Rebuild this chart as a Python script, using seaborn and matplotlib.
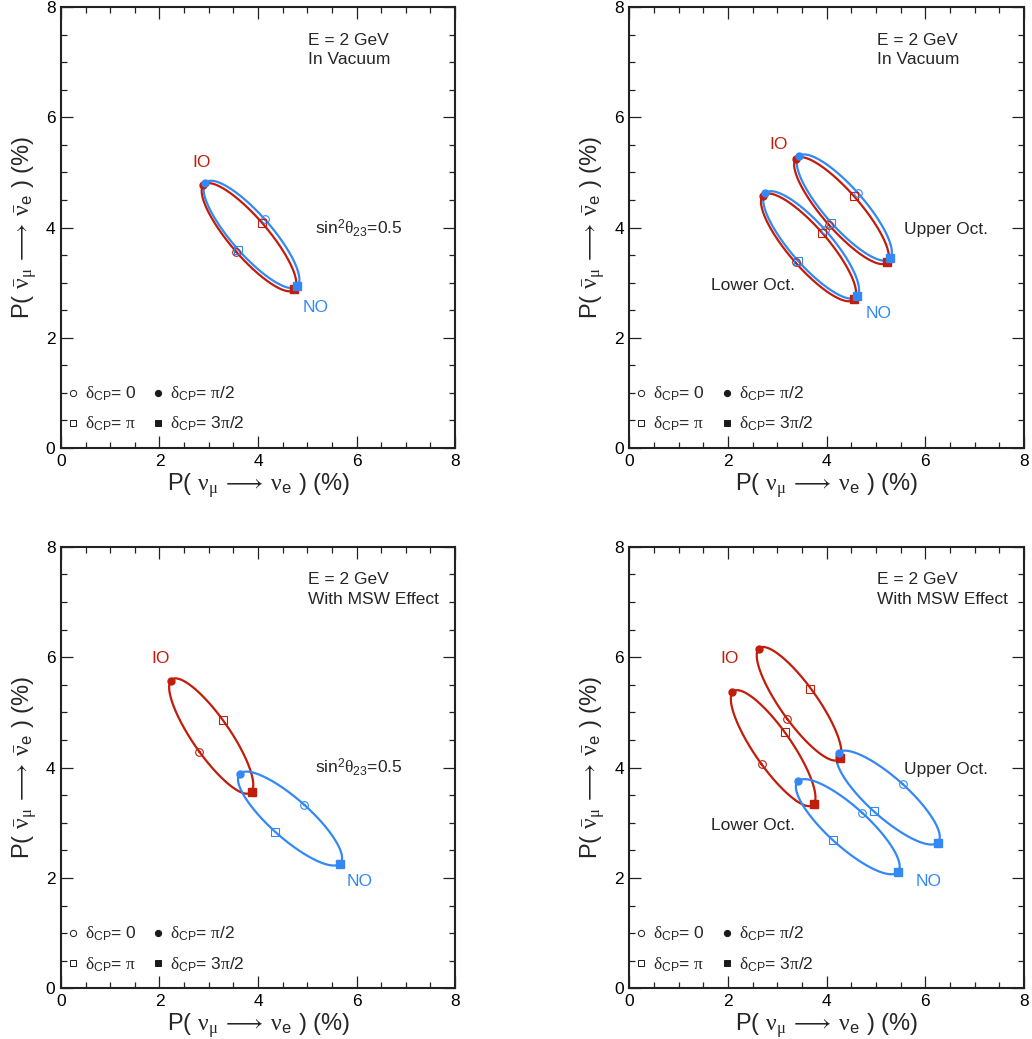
import numpy as np
import pandas as pd
import matplotlib
matplotlib.use("Agg")
import matplotlib.pyplot as plt
import seaborn as sns
from matplotlib.ticker import MultipleLocator

sns.set_theme(style="ticks")
plt.rcParams["font.family"] = ["Liberation Sans", "DejaVu Sans"]
plt.rcParams["mathtext.fontset"] = "custom"
plt.rcParams["mathtext.rm"] = "Liberation Serif"
plt.rcParams["mathtext.sf"] = "Liberation Sans"
plt.rcParams["mathtext.it"] = "Liberation Serif:italic"
plt.rcParams["mathtext.default"] = "rm"

RED = "#c01d0b"
BLUE = "#3388f5"

# marker order in every list: delta_CP = 0, pi/2, pi, 3pi/2  (values in %)
# --- top-left: vacuum, sin^2 theta23 = 0.5
tl_NO_x = [4.14, 2.93, 3.60, 4.80]
tl_NO_y = [4.15, 4.81, 3.60, 2.94]
tl_IO_x = [3.56, 2.89, 4.08, 4.74]
tl_IO_y = [3.56, 4.77, 4.09, 2.88]
# --- top-right: vacuum, upper/lower octant
tr_NO_up_x = [4.63, 3.43, 4.09, 5.28]
tr_NO_up_y = [4.63, 5.29, 4.09, 3.44]
tr_IO_up_x = [4.05, 3.37, 4.56, 5.22]
tr_IO_up_y = [4.05, 5.24, 4.57, 3.37]
tr_NO_lo_x = [3.97, 2.75, 3.41, 4.61]
tr_NO_lo_y = [3.95, 4.63, 3.40, 2.76]
tr_IO_lo_x = [3.37, 2.70, 3.91, 4.55]
tr_IO_lo_y = [3.37, 4.58, 3.91, 2.70]
# --- bottom-left: matter, sin^2 theta23 = 0.5
bl_NO_x = [4.94, 3.64, 4.35, 5.67]
bl_NO_y = [3.32, 3.89, 2.83, 2.26]
bl_IO_x = [2.81, 2.23, 3.29, 3.87]
bl_IO_y = [4.29, 5.57, 4.86, 3.56]
# --- bottom-right: matter, upper/lower octant
br_NO_up_x = [5.54, 4.24, 4.95, 6.25]
br_NO_up_y = [3.70, 4.27, 3.21, 2.64]
br_NO_lo_x = [4.72, 3.42, 4.13, 5.44]
br_NO_lo_y = [3.18, 3.75, 2.68, 2.10]
br_IO_up_x = [3.20, 2.62, 3.67, 4.27]
br_IO_up_y = [4.87, 6.15, 5.43, 4.17]
br_IO_lo_x = [2.68, 2.09, 3.15, 3.74]
br_IO_lo_y = [4.06, 5.36, 4.64, 3.34]

panels = [
    dict(pos=[0.0591, 0.5688, 0.3818, 0.4244], env="In Vacuum",
         curves=[("IO", tl_IO_x, tl_IO_y), ("NO", tl_NO_x, tl_NO_y)],
         io=(2.66, 5.10), no=(4.90, 2.47), sin=(5.16, 3.89), octs=None),
    dict(pos=[0.6098, 0.5688, 0.3825, 0.4244], env="In Vacuum",
         curves=[("IO", tr_IO_lo_x, tr_IO_lo_y), ("NO", tr_NO_lo_x, tr_NO_lo_y),
                 ("IO", tr_IO_up_x, tr_IO_up_y), ("NO", tr_NO_up_x, tr_NO_up_y)],
         io=(2.84, 5.42), no=(4.79, 2.36), sin=None, octs=((5.57, 3.89), (1.66, 2.87))),
    dict(pos=[0.0591, 0.0488, 0.3818, 0.4250], env="With MSW Effect",
         curves=[("IO", bl_IO_x, bl_IO_y), ("NO", bl_NO_x, bl_NO_y)],
         io=(1.83, 5.89), no=(5.80, 1.85), sin=(5.16, 3.895), octs=None),
    dict(pos=[0.6098, 0.0488, 0.3825, 0.4250], env="With MSW Effect",
         curves=[("IO", br_IO_up_x, br_IO_up_y), ("IO", br_IO_lo_x, br_IO_lo_y),
                 ("NO", br_NO_up_x, br_NO_up_y), ("NO", br_NO_lo_x, br_NO_lo_y)],
         io=(1.84, 5.89), no=(5.80, 1.85), sin=None, octs=((5.57, 3.88), (1.66, 2.87))),
]

fig = plt.figure(figsize=(10.32, 10.39), dpi=100)
delta = np.linspace(0, 2 * np.pi, 361)
colors = {"IO": RED, "NO": BLUE}

xlabel = r"P( $\nu_{\mu}\;\longrightarrow\;\nu_{\mathsf{e}}$ ) (%)"
ylabel = r"P( $\bar{\nu}_{\mu}\;\longrightarrow\;\bar{\nu}_{\mathsf{e}}$ ) (%)"

for p in panels:
    ax = fig.add_axes(p["pos"])
    rows = []
    for k, (order, xs, ys) in enumerate(p["curves"]):
        xs = np.asarray(xs); ys = np.asarray(ys)
        cx, cy = xs.mean(), ys.mean()
        bx, by = (xs[0] - xs[2]) / 2, (ys[0] - ys[2]) / 2
        sx, sy = (xs[1] - xs[3]) / 2, (ys[1] - ys[3]) / 2
        ex = cx + bx * np.cos(delta) + sx * np.sin(delta)
        ey = cy + by * np.cos(delta) + sy * np.sin(delta)
        rows.append(pd.DataFrame({"x": ex, "y": ey, "curve": k, "order": order}))
    df = pd.concat(rows, ignore_index=True)
    for k, (order, xs, ys) in enumerate(p["curves"]):
        sub = df[df["curve"] == k]
        sns.lineplot(data=sub, x="x", y="y", sort=False, estimator=None,
                     color=colors[order], lw=1.6, ax=ax, legend=False)
    for order, xs, ys in p["curves"]:
        c = colors[order]
        ax.plot(xs[0], ys[0], marker="o", ms=5.5, mfc="none", mec=c, mew=0.8, ls="none")
        ax.plot(xs[2], ys[2], marker="s", ms=5.5, mfc="none", mec=c, mew=0.8, ls="none")
        ax.plot(xs[1], ys[1], marker="o", ms=5, mfc=c, mec=c, ls="none")
        ax.plot(xs[3], ys[3], marker="s", ms=5.5, mfc=c, mec=c, ls="none")

    ax.set_xlim(0, 8)
    ax.set_ylim(0, 8)
    ax.xaxis.set_major_locator(MultipleLocator(2))
    ax.xaxis.set_minor_locator(MultipleLocator(0.5))
    ax.yaxis.set_major_locator(MultipleLocator(2))
    ax.yaxis.set_minor_locator(MultipleLocator(0.5))
    ax.tick_params(which="both", direction="in", top=True, right=True,
                   color="#222222", labelsize=12.5, labelcolor="black")
    ax.tick_params(which="major", length=8.6, width=0.9, pad=4)
    ax.tick_params(which="minor", length=4.3, width=0.9)
    for s in ax.spines.values():
        s.set_linewidth(1.5)
        s.set_color("#222222")
    ax.set_xlabel(xlabel, fontsize=17, labelpad=2)
    ax.set_ylabel(ylabel, fontsize=17, labelpad=5)
    ax.set_facecolor("white")

    ax.text(5.02, 7.32, "E = 2 GeV", fontsize=12.5, ha="left", va="baseline")
    ax.text(5.02, 6.96, p["env"], fontsize=12.5, ha="left", va="baseline")
    ax.text(p["io"][0], p["io"][1], "IO", color=RED, fontsize=12.5, va="baseline")
    ax.text(p["no"][0], p["no"][1], "NO", color=BLUE, fontsize=12.5, va="baseline")
    if p["sin"] is not None:
        ax.text(p["sin"][0], p["sin"][1],
                r"sin$^{\mathsf{2}}\theta_{\mathsf{23}}$=0.5", fontsize=12.5, va="baseline")
    if p["octs"] is not None:
        ax.text(p["octs"][0][0], p["octs"][0][1], "Upper Oct.", fontsize=12.5, va="baseline")
        ax.text(p["octs"][1][0], p["octs"][1][1], "Lower Oct.", fontsize=12.5, va="baseline")

    # legend of delta_CP markers
    leg = [(0.24, 0.49, 1.00, "o", "none", r"$\delta_{\mathsf{CP}}$= 0"),
           (1.97, 2.22, 1.00, "o", "k", r"$\delta_{\mathsf{CP}}$= $\pi$/2"),
           (0.24, 0.49, 0.45, "s", "none", r"$\delta_{\mathsf{CP}}$= $\pi$"),
           (1.97, 2.22, 0.45, "s", "k", r"$\delta_{\mathsf{CP}}$= 3$\pi$/2")]
    for mx, tx, yy, m, fc, lab in leg:
        ax.plot(mx, yy, marker=m, ms=4.5, mfc=fc, mec="k", mew=0.7, ls="none")
        ax.text(tx, yy - 0.105, lab, fontsize=12.5, va="baseline", ha="left")

fig.savefig("out.png", dpi=100, facecolor="white")
